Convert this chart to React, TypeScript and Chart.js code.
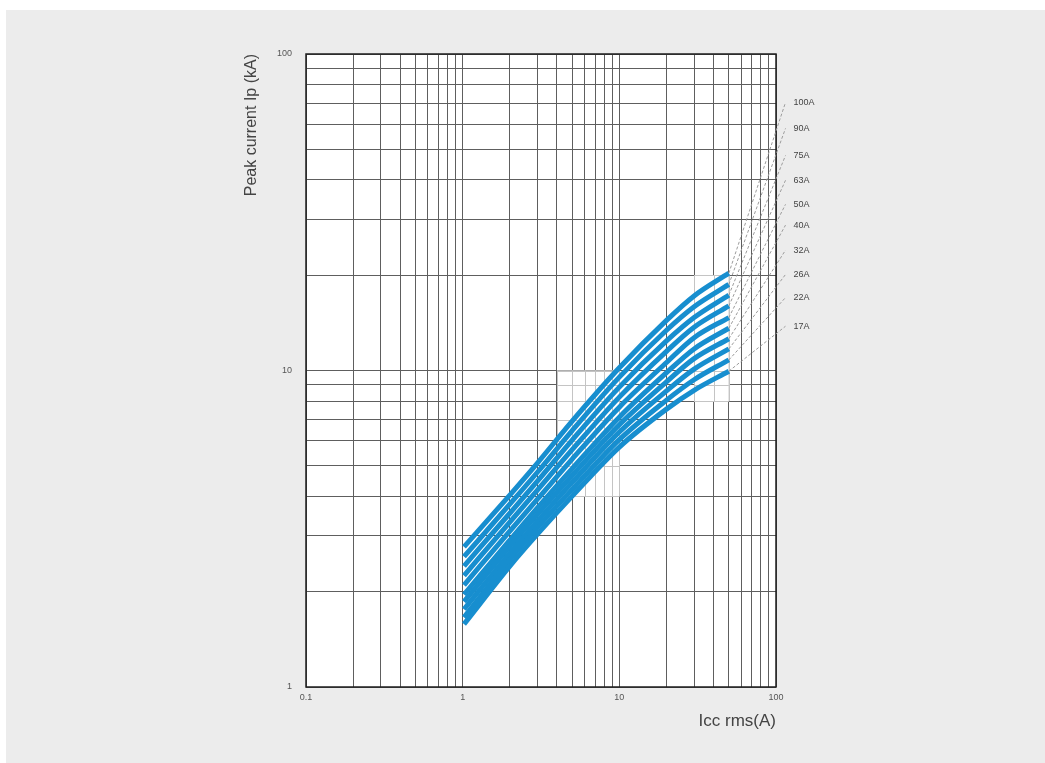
import React, { useEffect, useRef } from 'react';
import { Chart, registerables } from 'chart.js';

Chart.register(...registerables);

// ---- data ----
const xSamples = [1.02, 2, 3, 5, 10, 20, 30, 50];
const curveNames = ['17A', '22A', '26A', '32A', '40A', '50A', '63A', '75A', '90A', '100A'];
const ip17 = [1.58, 2.41, 3.04, 4.01, 5.73, 7.55, 8.66, 9.95];
const ip22 = [1.66, 2.53, 3.19, 4.21, 6.05, 8.06, 9.35, 10.8];
const ip26 = [1.76, 2.65, 3.34, 4.43, 6.39, 8.62, 10.1, 11.7];
const ip32 = [1.86, 2.78, 3.51, 4.66, 6.74, 9.21, 10.9, 12.6];
const ip40 = [1.96, 2.91, 3.68, 4.9, 7.12, 9.84, 11.7, 13.6];
const ip50 = [2.1, 3.11, 3.92, 5.25, 7.66, 10.6, 12.7, 14.7];
const ip63 = [2.25, 3.32, 4.19, 5.62, 8.24, 11.5, 13.7, 16.0];
const ip75 = [2.41, 3.54, 4.47, 6.03, 8.86, 12.4, 14.7, 17.3];
const ip90 = [2.58, 3.78, 4.77, 6.46, 9.53, 13.4, 15.9, 18.7];
const ip100 = [2.77, 4.04, 5.1, 6.92, 10.2, 14.4, 17.2, 20.3];

// dashed leader lines: from curve end to label anchor
const leaderX = 115;
const leaderY = [13.8, 17.0, 20.1, 24.0, 28.8, 33.5, 39.9, 47.8, 58.2, 70.3];

// tick values / labels
const xTickValues = [0.1, 0.2, 0.3, 0.4, 0.5, 0.6, 0.7, 0.8, 0.9, 1, 2, 3, 4, 5, 6, 7, 8, 9, 10, 20, 30, 40, 50, 60, 70, 80, 90, 100];
const xMajorTicks = [0.1, 1, 10, 100];
const xMajorLabels = ['0.1', '1', '10', '100'];
const yTickValues = [1, 2, 3, 4, 5, 6, 7, 8, 9, 10, 20, 30, 40, 50, 60, 70, 80, 90, 100];
const yMajorTicks = [1, 10, 100];
const yMajorLabels = ['1', '10', '100'];

// light grey highlight boxes (inner x lines, inner y lines)
const box1X = [4, 5, 6, 7, 8, 9, 10];
const box1Y = [4, 5, 6, 7, 8, 9, 10];
const box2X = [30, 40, 50];
const box2Y = [8, 9, 10, 20];

const FONT = "'Liberation Sans', Arial, Helvetica, sans-serif";
const BLUE = '#178ecf';

const bgPlugin = {
  id: 'plotBg',
  beforeDraw(chart: any) {
    const { ctx, chartArea: a } = chart;
    ctx.save();
    ctx.fillStyle = '#ffffff';
    ctx.fillRect(a.left, a.top, a.right - a.left, a.bottom - a.top);
    ctx.restore();
  },
};

function drawBox(chart: any, xs: number[], ys: number[]) {
  const { ctx, scales } = chart;
  const sx = scales.x;
  const sy = scales.y;
  const x0 = sx.getPixelForValue(xs[0]);
  const x1 = sx.getPixelForValue(xs[xs.length - 1]);
  const y0 = sy.getPixelForValue(ys[0]);
  const y1 = sy.getPixelForValue(ys[ys.length - 1]);
  ctx.save();
  ctx.fillStyle = '#ffffff';
  ctx.fillRect(x0, y1, x1 - x0, y0 - y1);
  ctx.strokeStyle = '#c4c4c4';
  ctx.lineWidth = 1;
  ctx.beginPath();
  xs.forEach((v) => {
    const p = Math.round(sx.getPixelForValue(v)) + 0.5;
    ctx.moveTo(p, y0);
    ctx.lineTo(p, y1);
  });
  ys.forEach((v) => {
    const p = Math.round(sy.getPixelForValue(v)) + 0.5;
    ctx.moveTo(x0, p);
    ctx.lineTo(x1, p);
  });
  ctx.stroke();
  ctx.restore();
}

const overlayPlugin = {
  id: 'overlay',
  beforeDatasetsDraw(chart: any) {
    drawBox(chart, box1X, box1Y);
    drawBox(chart, box2X, box2Y);
    const { ctx, chartArea: a } = chart;
    ctx.save();
    ctx.strokeStyle = '#1e1e1e';
    ctx.lineWidth = 1.5;
    ctx.strokeRect(a.left, a.top, a.right - a.left, a.bottom - a.top);
    ctx.restore();
  },
  afterDatasetsDraw(chart: any) {
    const { ctx, scales } = chart;
    ctx.save();
    ctx.font = `9px ${FONT}`;
    ctx.fillStyle = '#444';
    ctx.textAlign = 'left';
    ctx.textBaseline = 'middle';
    curveNames.forEach((name, i) => {
      const px = scales.x.getPixelForValue(leaderX) + 8;
      const py = scales.y.getPixelForValue(leaderY[i]);
      ctx.fillText(name, px, py);
    });
    ctx.restore();
  },
};

export default function App() {
  const ref = useRef<HTMLCanvasElement>(null);

  useEffect(() => {
    const canvas = ref.current;
    if (!canvas) return;
    const curves = [ip17, ip22, ip26, ip32, ip40, ip50, ip63, ip75, ip90, ip100];
    const datasets: any[] = [];
    curves.forEach((c, i) => {
      datasets.push({
        label: curveNames[i] + ' leader',
        data: [
          { x: xSamples[xSamples.length - 1], y: c[c.length - 1] },
          { x: leaderX, y: leaderY[i] },
        ],
        borderColor: '#9c9c9c',
        borderWidth: 1,
        borderDash: [3, 2],
        pointRadius: 0,
        fill: false,
        clip: false,
      });
    });
    curves.forEach((c, i) => {
      datasets.push({
        label: curveNames[i],
        data: xSamples.map((x, j) => ({ x, y: c[j] })),
        borderColor: BLUE,
        borderWidth: 5,
        borderCapStyle: 'butt',
        pointRadius: 0,
        fill: false,
        cubicInterpolationMode: 'monotone',
      });
    });

    const chart = new Chart(canvas, {
      type: 'line',
      data: { datasets },
      options: {
        responsive: false,
        animation: false,
        devicePixelRatio: 1,
        layout: { padding: { left: 236, right: 269, top: 54, bottom: 20 } },
        plugins: { legend: { display: false }, tooltip: { enabled: false } },
        scales: {
          x: {
            type: 'logarithmic',
            position: 'bottom',
            min: 0.1,
            max: 100,
            afterFit: (s: any) => {
              s.height = 56;
            },
            afterBuildTicks: (s: any) => {
              s.ticks = xTickValues.map((v) => ({ value: v }));
            },
            grid: { color: '#5e5e5e', lineWidth: 1, drawTicks: false },
            border: { display: false },
            ticks: {
              autoSkip: false,
              maxRotation: 0,
              padding: 5,
              color: '#555',
              font: { family: FONT, size: 9 },
              callback: (v: any) => {
                const k = xMajorTicks.indexOf(Number(v));
                return k >= 0 ? xMajorLabels[k] : '';
              },
            },
            title: {
              display: true,
              text: 'Icc rms(A)',
              align: 'end',
              color: '#444',
              font: { family: FONT, size: 17 },
              padding: { top: 0, bottom: 11 },
            },
          },
          y: {
            type: 'logarithmic',
            position: 'left',
            min: 1,
            max: 100,
            afterFit: (s: any) => {
              s.width = 70;
            },
            afterBuildTicks: (s: any) => {
              s.ticks = yTickValues.map((v) => ({ value: v }));
            },
            grid: { color: '#5e5e5e', lineWidth: 1, drawTicks: false },
            border: { display: false },
            ticks: {
              autoSkip: false,
              padding: 14,
              color: '#555',
              font: { family: FONT, size: 9 },
              callback: (v: any) => {
                const k = yMajorTicks.indexOf(Number(v));
                return k >= 0 ? yMajorLabels[k] : '';
              },
            },
            title: {
              display: true,
              text: 'Peak current Ip (kA)',
              align: 'end',
              color: '#444',
              font: { family: FONT, size: 16 },
              padding: { top: 6, bottom: 0 },
            },
          },
        },
      } as any,
      plugins: [bgPlugin, overlayPlugin],
    });
    return () => chart.destroy();
  }, []);

  return (
    <div style={{ position: 'fixed', left: 0, top: 0, width: 1045, height: 763, background: '#ffffff', overflow: 'hidden' }}>
      <div style={{ position: 'absolute', left: 6, top: 10, right: 0, bottom: 0, background: '#ececec' }} />
      <canvas ref={ref} width={1045} height={763} style={{ position: 'absolute', left: 0, top: 0, width: 1045, height: 763 }} />
    </div>
  );
}
